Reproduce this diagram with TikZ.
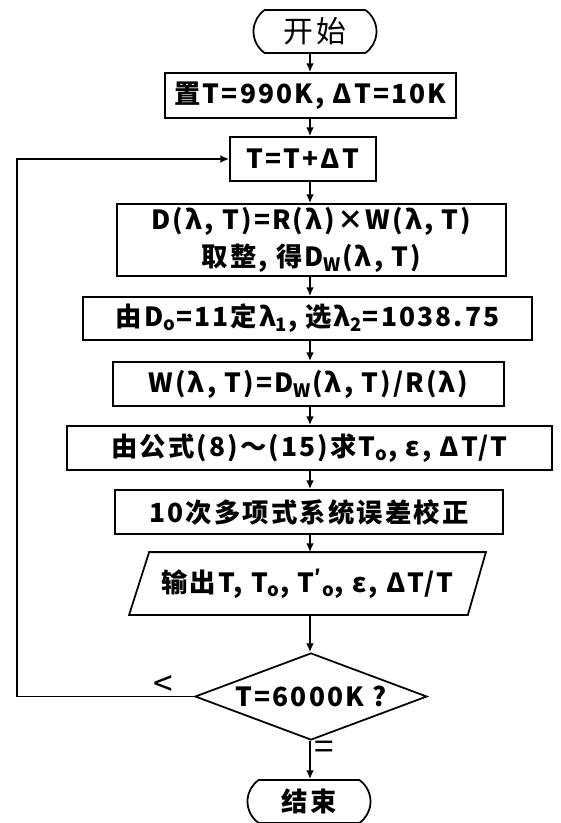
\documentclass[tikz,border=0pt]{standalone}
\usepackage{fontspec}
\setmainfont{Noto Sans CJK SC}[LetterSpace=8]
\usetikzlibrary{shapes.geometric,shapes.misc,arrows.meta}

\begin{document}
\begin{tikzpicture}[
    line width=1pt,
    >={Latex[length=5pt,width=4.5pt]},
    every node/.style={align=center, inner sep=0pt, font=\fontsize{15}{21}\selectfont\bfseries},
    proc/.style={draw, rectangle},
    term/.style={draw, rounded rectangle, rounded rectangle arc length=110,
                 minimum width=2.46cm, minimum height=0.86cm},
    decide/.style={draw, diamond, aspect=2.67, minimum width=4.64cm, minimum height=1.74cm},
    lbl/.style={font=\fontsize{20}{22}\selectfont}
]
\useasboundingbox (0,0) rectangle (11.2,-16.46);
\coordinate (ax) at (6.2,0);
\coordinate (lp) at (0.34,-3.18);

\node[term, font=\fontsize{17}{22}\selectfont] (start) at (6.30,-0.63) {开始};
\node[proc, minimum width=5.82cm, minimum height=0.90cm] (set) at (6.21,-1.91) {置T=990K, ΔT=10K};
\node[proc, minimum width=2.92cm, minimum height=0.88cm] (incr) at (6.06,-3.18) {T=T+ΔT};
\node[proc, minimum width=7.78cm, minimum height=1.44cm] (calcD) at (6.23,-4.80)
    {D(λ, T)=R(λ)×W(λ, T)\\取整, 得D\textsubscript{W}(λ, T)};
\node[proc, minimum width=8.98cm, minimum height=0.86cm] (pick) at (6.15,-6.37)
    {由D\textsubscript{o}=11定λ\textsubscript{1}, 选λ\textsubscript{2}=1038.75};
\node[proc, minimum width=7.82cm, minimum height=0.88cm] (calcW) at (6.17,-7.68)
    {W(λ, T)=D\textsubscript{W}(λ, T)/R(λ)};
\node[proc, minimum width=9.70cm, minimum height=0.88cm] (solve) at (6.19,-8.96)
    {由公式(8)～(15)求T\textsubscript{o}, ε, ΔT/T};
\node[proc, minimum width=7.76cm, minimum height=0.88cm] (corr) at (6.18,-10.24) {10次多项式系统误差校正};
\node[minimum width=7.10cm, minimum height=1.22cm] (out) at (6.15,-11.67)
    {输出T, T\textsubscript{o}, T\textsuperscript{′}\textsubscript{o}, ε, ΔT/T};
\draw ([xshift=0.40cm]out.north west) -- (out.north east) -- ([xshift=-0.36cm]out.south east)
    -- (out.south west) -- cycle;
\node[decide] (check) at (6.22,-13.93) {T=6000K ?};
\node[term] (stop) at (6.18,-16.03) {结束};

\foreach \a/\b in {start/set, set/incr, incr/calcD, calcD/pick, pick/calcW,
                   calcW/solve, solve/corr, corr/out, out/check, check/stop}
    {\draw[->] (\a.south -| ax) -- (\b.north -| ax);}

\draw[->] (check.west) -- (check.west -| lp) -- (lp) -- (incr.west);
\node[lbl] (lt) at (3.26,-13.72) {<};
\node[lbl] (eq) at (6.48,-15.00) {=};
\end{tikzpicture}
\end{document}
